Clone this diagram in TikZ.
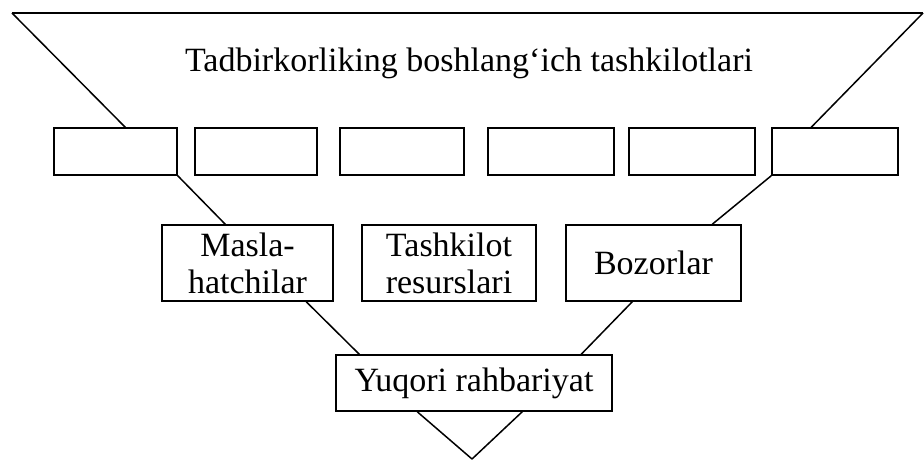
\documentclass[tikz,border=0pt]{standalone}
\usepackage{fontspec}
\setmainfont{Liberation Serif}
\usetikzlibrary{calc}
\begin{document}
\begin{tikzpicture}[x=1pt,y=-1pt,line width=1.5pt,
  bigfont/.style={font=\fontsize{34}{37}\selectfont},
  emptybox/.style={draw,rectangle,minimum width=124pt,minimum height=47pt,inner sep=0pt},
  textbox/.style={draw,rectangle,minimum height=76pt,inner sep=0pt,align=center,bigfont},
  vline/.style={line width=1.5pt}]
\useasboundingbox (0,0) rectangle (924,461);
% top title
\node[bigfont] (title) at (469,63) {Tadbirkorliking boshlang‘ich tashkilotlari};
% empty boxes
\node[emptybox,minimum width=123pt] (b1) at (115.5,151.5) {};
\node[emptybox,minimum width=122pt] (b2) at (256,151.5) {};
\node[emptybox] (b3) at (402,151.5) {};
\node[emptybox,minimum width=126pt] (b4) at (551,151.5) {};
\node[emptybox,minimum width=126pt] (b5) at (692,151.5) {};
\node[emptybox,minimum width=126pt] (b6) at (835,151.5) {};
% middle boxes
\node[textbox,minimum width=171pt] (m1) at (247.5,263) {Masla-\\hatchilar};
\node[textbox,minimum width=174pt] (m2) at (449,263) {Tashkilot\\resurslari};
\node[textbox,minimum width=175pt] (m3) at (653.5,263) {Bozorlar};
% bottom box
\node[textbox,minimum width=276pt,minimum height=56pt] (y) at (474,383) {Yuqori rahbariyat};
% corners
\coordinate (tl) at (12,13);
\coordinate (tr) at (923,13);
\coordinate (apex) at (472,459);
% funnel lines
\draw[vline] (tl) -- (tr);
\draw[vline] (tl) -- ($(b1.north west)+(72,0)$);
\draw[vline] (tr) -- ($(b6.north west)+(40,0)$);
\draw[vline] (b1.south east) -- ($(m1.north west)+(64,0)$);
\draw[vline] (b6.south west) -- ($(m3.north west)+(147,0)$);
\draw[vline] ($(m1.south west)+(145,0)$) -- ($(y.north west)+(24,0)$);
\draw[vline] ($(m3.south west)+(67,0)$) -- ($(y.north west)+(246,0)$);
\draw[vline] ($(y.south west)+(82,0)$) -- (apex);
\draw[vline] ($(y.south west)+(187,0)$) -- (apex);
\end{tikzpicture}
\end{document}
